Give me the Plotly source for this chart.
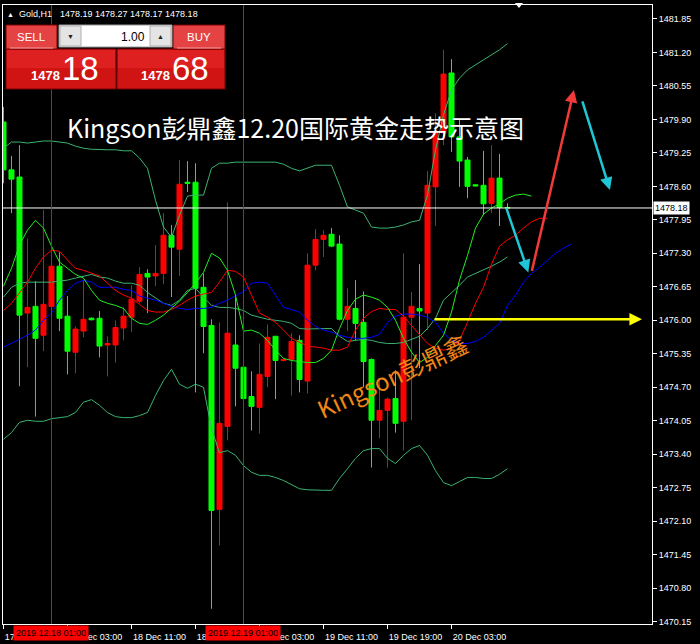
import plotly.graph_objects as go

# ---------------- data ----------------
tick_index = [0, 8, 16, 24, 32, 40, 48, 56]
tick_text = ["17 Dec 19:00", "18 Dec 03:00", "18 Dec 11:00", "18 Dec 19:00",
             "19 Dec 03:00", "19 Dec 11:00", "19 Dec 19:00", "20 Dec 03:00"]

price_ticks = [1470.15, 1470.80, 1471.45, 1472.10, 1472.75, 1473.40, 1474.05, 1474.70,
               1475.35, 1476.00, 1476.65, 1477.30, 1477.95, 1478.60, 1479.25, 1479.90,
               1480.55, 1481.20, 1481.85]

opens = [1479.85, 1478.92, 1478.78, 1476.14, 1476.27, 1475.71, 1476.27, 1477.05, 1476.08, 1475.38,
         1475.79, 1476.04, 1476.04, 1475.52, 1475.52, 1475.85, 1476.06, 1476.37, 1476.91, 1476.86,
         1476.91, 1477.65, 1477.38, 1478.68, 1478.68, 1476.64, 1475.90, 1472.33, 1473.94, 1475.52,
         1475.09, 1474.52, 1474.31, 1474.91, 1475.69, 1475.22, 1475.24, 1475.61, 1474.82, 1477.07,
         1477.57, 1477.67, 1477.48, 1476.02, 1476.23, 1475.96, 1475.24, 1474.06, 1474.25, 1474.48,
         1474.04, 1476.06, 1476.23, 1476.14, 1478.59, 1479.64, 1480.80, 1479.56, 1479.11, 1478.63,
         1478.62, 1478.27, 1478.76, 1478.19]
highs = [1480.14, 1479.19, 1479.40, 1477.59, 1476.76, 1478.14, 1477.13, 1477.32, 1476.47, 1475.88,
         1476.78, 1476.06, 1476.18, 1475.69, 1476.00, 1476.25, 1476.68, 1477.03, 1476.99, 1477.46,
         1478.08, 1477.85, 1479.11, 1479.09, 1479.05, 1476.91, 1476.02, 1475.96, 1478.29, 1476.45,
         1475.22, 1475.01, 1475.55, 1475.92, 1475.69, 1475.26, 1475.75, 1475.71, 1477.30, 1477.77,
         1477.75, 1477.79, 1477.65, 1476.62, 1476.78, 1476.56, 1475.26, 1474.87, 1474.50, 1475.03,
         1477.30, 1476.55, 1477.09, 1478.90, 1480.02, 1481.25, 1481.07, 1479.89, 1479.17, 1478.64,
         1479.29, 1479.40, 1479.23, 1478.27]
lows = [1478.66, 1478.08, 1474.72, 1475.09, 1474.13, 1475.40, 1476.19, 1475.79, 1474.95, 1474.97,
        1475.67, 1476.00, 1475.28, 1474.91, 1475.18, 1475.61, 1475.77, 1476.33, 1476.14, 1476.66,
        1476.70, 1476.45, 1476.86, 1478.49, 1474.60, 1475.36, 1470.40, 1471.63, 1473.67, 1474.33,
        1474.35, 1473.86, 1473.80, 1474.70, 1474.47, 1475.20, 1474.54, 1474.60, 1474.58, 1476.97,
        1477.23, 1477.42, 1476.00, 1475.79, 1475.61, 1474.70, 1473.14, 1473.71, 1473.14, 1473.82,
        1473.47, 1474.06, 1475.07, 1475.81, 1477.83, 1479.40, 1479.27, 1478.59, 1478.37, 1478.60,
        1478.04, 1478.08, 1477.83, 1478.17]
closes = [1478.92, 1478.74, 1476.10, 1476.25, 1475.65, 1476.31, 1477.05, 1476.04, 1475.40, 1475.83,
          1476.02, 1476.01, 1475.50, 1475.55, 1475.86, 1476.08, 1476.41, 1476.89, 1476.84, 1476.91,
          1477.65, 1477.42, 1478.64, 1478.66, 1476.62, 1475.88, 1472.31, 1474.00, 1475.75, 1475.07,
          1474.48, 1474.33, 1474.95, 1475.67, 1475.22, 1475.24, 1475.59, 1474.85, 1477.07, 1477.57,
          1477.65, 1477.44, 1476.02, 1476.27, 1475.94, 1475.20, 1474.06, 1474.25, 1474.47, 1474.00,
          1476.06, 1476.27, 1476.18, 1478.62, 1479.64, 1480.78, 1479.56, 1479.09, 1478.60, 1478.61,
          1478.26, 1478.76, 1478.19, 1478.18]

bb_upper = [1479.34, 1479.46, 1479.46, 1479.44, 1479.46, 1479.48, 1479.48, 1479.46, 1479.44, 1479.38,
            1479.34, 1479.32, 1479.31, 1479.31, 1479.31, 1479.29, 1479.29, 1479.15, 1478.95, 1478.33,
            1477.81, 1477.61, 1478.04, 1478.41, 1478.43, 1478.43, 1478.95, 1479.05, 1479.05, 1479.07,
            1479.07, 1479.07, 1479.07, 1479.07, 1479.07, 1479.03, 1478.95, 1478.90, 1478.95, 1479.01,
            1479.01, 1479.01, 1478.62, 1478.20, 1478.14, 1478.08, 1477.81, 1477.79, 1477.79, 1477.81,
            1477.85, 1477.91, 1477.94, 1478.43, 1479.31, 1479.99, 1480.47, 1480.70, 1480.86, 1480.96,
            1481.05, 1481.15, 1481.25, 1481.37]
bb_middle = [1476.45, 1476.64, 1476.72, 1476.74, 1476.74, 1476.74, 1476.74, 1476.76, 1476.78, 1476.82,
             1476.86, 1476.89, 1476.84, 1476.82, 1476.76, 1476.72, 1476.72, 1476.68, 1476.54, 1476.43,
             1476.33, 1476.29, 1476.39, 1476.58, 1476.62, 1476.45, 1476.29, 1476.25, 1476.25, 1476.23,
             1476.19, 1476.10, 1476.06, 1476.02, 1476.00, 1475.98, 1475.94, 1475.84, 1475.83, 1475.84,
             1475.84, 1475.84, 1475.69, 1475.59, 1475.61, 1475.63, 1475.61, 1475.57, 1475.55, 1475.55,
             1475.57, 1475.63, 1475.69, 1475.84, 1476.04, 1476.39, 1476.53, 1476.68, 1476.84, 1476.91,
             1476.97, 1477.05, 1477.13, 1477.23]
bb_lower = [1473.69, 1473.82, 1474.02, 1474.06, 1474.04, 1474.04, 1474.09, 1474.11, 1474.13, 1474.21,
            1474.41, 1474.46, 1474.35, 1474.21, 1474.13, 1474.11, 1474.11, 1474.15, 1474.21, 1474.54,
            1474.83, 1475.05, 1474.76, 1474.68, 1474.76, 1474.70, 1473.90, 1473.43, 1473.47, 1473.38,
            1473.18, 1473.05, 1472.99, 1472.99, 1472.95, 1472.89, 1472.81, 1472.73, 1472.71, 1472.70,
            1472.70, 1472.70, 1472.93, 1473.12, 1473.32, 1473.47, 1473.51, 1473.51, 1473.32, 1473.22,
            1473.38, 1473.51, 1473.57, 1473.38, 1473.08, 1472.85, 1472.79, 1472.87, 1472.95, 1472.95,
            1472.93, 1472.93, 1473.01, 1473.12]

# Alligator lines (shifted forward: lips 3, teeth 5, jaw 8 bars)
lips = [1476.66, 1477.01, 1477.46, 1477.75, 1477.94, 1477.79, 1477.44, 1477.13, 1477.01, 1476.89,
        1476.82, 1476.58, 1476.39, 1476.33, 1476.29, 1476.23, 1476.04, 1475.94, 1475.92, 1476.00,
        1476.10, 1476.23, 1476.37, 1476.54, 1476.72, 1476.93, 1477.30, 1477.21, 1476.97, 1476.49,
        1475.79, 1475.81, 1475.75, 1475.61, 1475.42, 1475.26, 1475.22, 1475.20, 1475.18, 1475.18,
        1475.26, 1475.42, 1475.84, 1476.19, 1476.41, 1476.49, 1476.45, 1476.39, 1476.25, 1476.00,
        1475.65, 1475.38, 1475.18, 1475.28, 1475.51, 1475.71, 1476.16, 1476.78, 1477.26, 1477.79,
        1478.06, 1478.18, 1478.26, 1478.37, 1478.43, 1478.45, 1478.41]
teeth = [1476.19, 1476.33, 1476.53, 1476.74, 1477.01, 1477.23, 1477.36, 1477.34, 1477.17, 1477.01,
         1476.97, 1476.91, 1476.86, 1476.72, 1476.58, 1476.49, 1476.43, 1476.31, 1476.19, 1476.16,
         1476.16, 1476.21, 1476.29, 1476.39, 1476.47, 1476.51, 1476.54, 1476.74, 1476.97, 1476.95,
         1476.84, 1476.49, 1476.14, 1476.06, 1475.96, 1475.81, 1475.65, 1475.57, 1475.50, 1475.48,
         1475.46, 1475.42, 1475.42, 1475.48, 1475.81, 1476.04, 1476.17, 1476.23, 1476.21, 1476.21,
         1476.08, 1475.90, 1475.73, 1475.55, 1475.46, 1475.42, 1475.46, 1475.61, 1475.96, 1476.33,
         1476.64, 1477.09, 1477.44, 1477.56, 1477.65, 1477.79, 1477.91, 1477.98, 1477.98]
jaw = [1475.48, 1475.55, 1475.63, 1475.71, 1475.81, 1476.00, 1476.14, 1476.39, 1476.58, 1476.72,
       1476.78, 1476.74, 1476.64, 1476.64, 1476.64, 1476.60, 1476.58, 1476.47, 1476.43, 1476.39,
       1476.33, 1476.27, 1476.23, 1476.21, 1476.23, 1476.23, 1476.25, 1476.33, 1476.39, 1476.47,
       1476.56, 1476.72, 1476.74, 1476.72, 1476.49, 1476.25, 1476.21, 1476.16, 1476.00, 1475.88,
       1475.81, 1475.77, 1475.71, 1475.67, 1475.65, 1475.65, 1475.67, 1475.73, 1475.96, 1476.08,
       1476.12, 1476.12, 1476.10, 1476.06, 1475.96, 1475.75, 1475.61, 1475.55, 1475.55, 1475.59,
       1475.67, 1475.81, 1475.94, 1476.29, 1476.49, 1476.74, 1476.91, 1477.03, 1477.17, 1477.30,
       1477.40, 1477.48]

vline_index = [6, 30]
vline_labels = ["2019.12.18 01:00", "2019.12.19 01:00"]
last_price = 1478.18
header_ohlc = ["1478.19", "1478.27", "1478.17", "1478.18"]
sell_price = ("1478", "18")
buy_price = ("1478", "68")
lot = "1.00"

# forecast arrows: (tail bar, tail price) -> (head bar, head price)
arrows = [
    ((62.8, 1478.20), (65.6, 1476.93), "#1fc6d6"),
    ((66.0, 1476.93), (71.3, 1480.47), "#f23a3a"),
    ((72.3, 1480.28), (75.8, 1478.53), "#1fc6d6"),
    ((53.7, 1476.02), (79.8, 1476.02), "#ffff00"),
]
title_text = "Kingson彭鼎鑫12.20国际黄金走势示意图"
watermark = "Kingson彭鼎鑫"

# ---------------- layout helpers ----------------
W, H = 700, 644
ML, MR, MT, MB = 3, 48, 5, 20
PW, PH = W - ML - MR, H - MT - MB


def pxx(px):
    return (px - ML) / PW


def pxy(py):
    return (H - MB - py) / PH


FONT = "Liberation Sans, Arial, sans-serif"
CJK = "Noto Sans CJK SC, sans-serif"

fig = go.Figure()

fig.add_trace(go.Candlestick(
    x=list(range(len(opens))), open=opens, high=highs, low=lows, close=closes,
    increasing=dict(line=dict(color="#ff0000", width=1), fillcolor="#ff0000"),
    decreasing=dict(line=dict(color="#00ff00", width=1), fillcolor="#00ff00"),
    whiskerwidth=0, hoverinfo="skip", showlegend=False))

for arr, col in [(bb_upper, "#3cb371"), (bb_middle, "#3cb371"), (bb_lower, "#3cb371"),
                 (jaw, "#0000ff"), (teeth, "#ff0000"), (lips, "#22ee22")]:
    fig.add_trace(go.Scatter(x=list(range(len(arr))), y=arr, mode="lines",
                             line=dict(color=col, width=1), hoverinfo="skip",
                             showlegend=False))

shapes = []
# current price line
shapes.append(dict(type="line", xref="paper", x0=0, x1=1, yref="y", y0=last_price, y1=last_price,
                   line=dict(color="#ffffff", width=1), layer="above"))
# vertical period lines
for vi in vline_index:
    shapes.append(dict(type="line", xref="x", x0=vi, x1=vi, yref="paper", y0=0, y1=1,
                       line=dict(color="#ff0000", width=1), layer="above"))


def rect(x0, y0, x1, y1, fill, line="#7a0000", lw=1):
    shapes.append(dict(type="rect", xref="paper", yref="paper", x0=pxx(x0), x1=pxx(x1),
                       y0=pxy(y1), y1=pxy(y0), fillcolor=fill,
                       line=dict(color=line, width=lw), layer="above"))


# trading panel
rect(6, 49, 116, 89, "#d01414")
rect(7, 50, 115, 68, "#df2020", line="rgba(0,0,0,0)", lw=0)
rect(117, 49, 225, 89, "#d01414")
rect(118, 50, 224, 68, "#df2020", line="rgba(0,0,0,0)", lw=0)
rect(6, 25, 57, 49, "#e54343")
rect(173, 25, 225, 49, "#e54343")
shapes.append(dict(type="line", xref="paper", yref="paper", x0=pxx(10), x1=pxx(53), y0=pxy(48), y1=pxy(48),
                   line=dict(color="#f4a0a0", width=1), layer="above"))
shapes.append(dict(type="line", xref="paper", yref="paper", x0=pxx(177), x1=pxx(221), y0=pxy(48), y1=pxy(48),
                   line=dict(color="#f4a0a0", width=1), layer="above"))
rect(59, 25, 172, 47, "#ffffff", line="#9a9a9a")
rect(60, 26, 81, 46, "#e4e4e4", line="#b0b0b0")
rect(150, 26, 171, 46, "#e4e4e4", line="#b0b0b0")
# small marker triangle at top
shapes.append(dict(type="path", xref="paper", yref="paper",
                   path=f"M {pxx(515)} {pxy(3)} L {pxx(523)} {pxy(3)} L {pxx(519)} {pxy(8)} Z",
                   fillcolor="#ffffff", line=dict(color="#ffffff", width=0), layer="above"))

ann = []
for (tx, ty), (hx, hy), col in arrows:
    ann.append(dict(x=hx, y=hy, ax=tx, ay=ty, xref="x", yref="y", axref="x", ayref="y",
                    text="", showarrow=True, arrowhead=2, arrowsize=1, arrowwidth=2.5,
                    arrowcolor=col))


def label(px, py, text, size, color="#ffffff", xanchor="left", font=FONT, **kw):
    ann.append(dict(x=pxx(px), y=pxy(py), xref="paper", yref="paper", text=text,
                    showarrow=False, xanchor=xanchor, yanchor="middle",
                    font=dict(size=size, color=color, family=font), **kw))


label(5, 14, "▲", 7)
label(17, 14, "Gold,H1", 9)
label(58, 14, " ".join(header_ohlc), 9)
label(31, 37, "SELL", 11.5, xanchor="center")
label(199, 37, "BUY", 11.5, xanchor="center")
label(70, 36.5, "▼", 7, color="#222222", xanchor="center")
label(160, 36.5, "▲", 7, color="#222222", xanchor="center")
label(147, 36.5, lot, 12, color="#000000", xanchor="right")
label(29, 76, f"<b>{sell_price[0]}</b>", 13)
label(60, 68, sell_price[1], 33)
label(139, 76, f"<b>{buy_price[0]}</b>", 13)
label(170, 68, buy_price[1], 33)

# title and watermark
label(295, 127, title_text, 25, xanchor="center", font=CJK)
label(392, 376, watermark, 24, color="#f08618", xanchor="center", font=CJK, textangle=-25)

# last price tag on the axis
ann.append(dict(x=1, y=last_price, xref="paper", yref="y", text=f"{last_price:.2f}",
                showarrow=False, xanchor="left", yanchor="middle", xshift=1,
                font=dict(size=9, color="#000000", family=FONT),
                bgcolor="#ffffff", borderpad=1))

# red labels of the vertical lines
for vi, lab in zip(vline_index, vline_labels):
    ann.append(dict(x=vi, y=pxy(632.5), xref="x", yref="paper", text=lab, showarrow=False,
                    xanchor="center", yanchor="middle",
                    font=dict(size=9, color="#000000", family=FONT),
                    bgcolor="#ff0000", borderpad=2))

fig.update_layout(
    width=W, height=H,
    margin=dict(l=ML, r=MR, t=MT, b=MB, pad=0),
    paper_bgcolor="#000000", plot_bgcolor="#000000",
    showlegend=False, hovermode=False,
    boxgap=0.375, boxgroupgap=0,
    shapes=shapes, annotations=ann,
    xaxis=dict(range=[-0.06, 81.06], rangeslider=dict(visible=False), showgrid=False,
               zeroline=False, showline=True, linecolor="#ffffff", linewidth=1, mirror=True,
               ticks="outside", ticklen=4, tickcolor="#ffffff", tickwidth=1,
               tickvals=tick_index, ticktext=tick_text, ticklabelshift=28,
               tickfont=dict(size=9, color="#ffffff", family=FONT)),
    yaxis=dict(range=[1470.105, 1482.12], side="right", showgrid=False, zeroline=False,
               showline=True, linecolor="#ffffff", linewidth=1, mirror=True,
               ticks="outside", ticklen=4, tickcolor="#ffffff", tickwidth=1,
               tickvals=price_ticks, ticktext=[f"{v:.2f}" for v in price_ticks],
               tickfont=dict(size=9, color="#ffffff", family=FONT)),
)

fig.write_html("out.html", config={"displayModeBar": False},
               post_script="document.body.style.margin='0';document.body.style.background='#000';")
